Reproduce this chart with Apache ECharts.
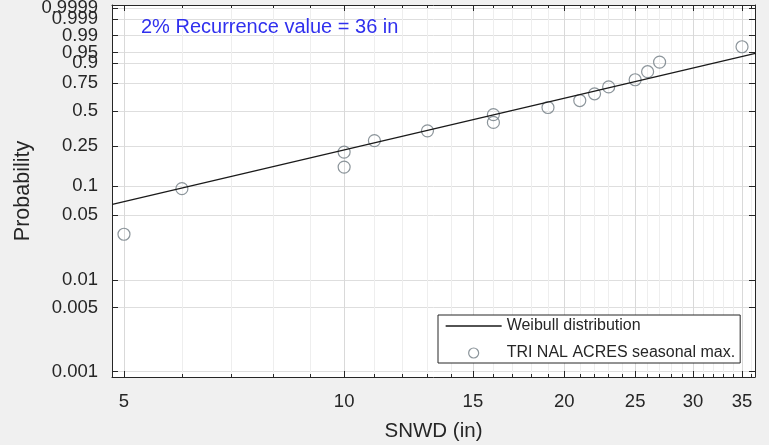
<!DOCTYPE html>
<html><head><meta charset="utf-8">
<script src="https://cdn.jsdelivr.net/npm/echarts@6/dist/echarts.min.js"></script>
<style>html,body{margin:0;padding:0;background:#f0f0f0}#c{width:769px;height:445px}</style>
</head><body><div id="c"></div>
<script>
// ---- data ----
const snwd = [5, 6, 10, 10, 11, 13, 16, 16, 19, 21, 22, 23, 25, 26, 27, 35];
const prob = [0.031, 0.094, 0.156, 0.219, 0.281, 0.344, 0.406, 0.469, 0.531, 0.594, 0.656, 0.719, 0.781, 0.844, 0.906, 0.969];
const fitX = [4.82, 36.5];
const fitP = [0.0645, 0.9475];
const xMajor = [5, 10, 15, 20, 25, 30, 35];
const xMinor = [6, 7, 8, 9, 11, 12, 13, 14, 16, 17, 18, 19, 21, 22, 23, 24, 26, 27, 28, 29, 31, 32, 33, 34, 36];
const xLimits = [4.815, 36.46];
const yTickP = [0.001, 0.005, 0.01, 0.05, 0.1, 0.25, 0.5, 0.75, 0.9, 0.95, 0.99, 0.999, 0.9999];
const yTickLabels = ['0.001', '0.005', '0.01', '0.05', '0.1', '0.25', '0.5', '0.75', '0.9', '0.95', '0.99', '0.999', '0.9999'];
const yLimits = [0.000876, 0.99995];
const titleText = '2% Recurrence value = 36 in';
const lineName = 'Weibull distribution';
const pointName = 'TRI NAL ACRES seasonal max.';

// ---- scale transforms (Weibull probability paper) ----
const L10 = v => Math.log10(v);
const W = p => Math.log(-Math.log(1 - p));

const ink = '#262626';
const font = "'Liberation Sans', Arial, sans-serif";

function xAxisDef(pos, vals, len, showLine, split, splitColor, extra) {
  return Object.assign({
    type: 'value', position: pos,
    min: L10(xLimits[0]), max: L10(xLimits[1]),
    axisLine: { show: showLine, onZero: false, lineStyle: { color: ink, width: 1 } },
    axisTick: { show: true, inside: true, length: len, customValues: vals.map(L10), lineStyle: { color: ink, width: 1 } },
    axisLabel: { show: false },
    splitLine: { show: split, lineStyle: { color: splitColor, width: 1 } }
  }, extra || {});
}
function yLabelFmt(v) {
  let best = 0, bd = 1e9;
  yTickP.forEach((p, i) => { const d = Math.abs(W(p) - v); if (d < bd) { bd = d; best = i; } });
  return yTickLabels[best];
}
// labels split over two overlaid left axes so that neighbouring labels are not auto-hidden
const yLabA = yTickP.filter((p, i) => i % 2 === 0);
const yLabB = yTickP.filter((p, i) => i % 2 === 1);

const option = {
  animation: false,
  backgroundColor: '#f0f0f0',
  textStyle: { fontFamily: font },
  title: {
    text: titleText, left: 141, top: 17, padding: 0,
    textStyle: { color: '#3030ee', fontSize: 20, fontWeight: 'normal', fontFamily: font }
  },
  grid: { left: 112, top: 5, right: 14, bottom: 68, show: true, backgroundColor: '#ffffff', borderWidth: 0, outerBoundsMode: 'none' },
  legend: {
    orient: 'vertical', left: 438, top: 315,
    padding: [3, 5, 2, 7], itemGap: 11, itemWidth: 56, itemHeight: 10,
    backgroundColor: '#ffffff', borderColor: ink, borderWidth: 1, borderRadius: 0,
    textStyle: { fontSize: 16, color: ink, fontFamily: font },
    data: [
      { name: lineName, lineStyle: { color: '#1a1a1a', width: 1.3 }, itemStyle: { color: 'rgba(0,0,0,0)', borderColor: 'rgba(0,0,0,0)', borderWidth: 0, opacity: 0 } },
      { name: pointName, icon: 'circle', itemStyle: { color: 'rgba(0,0,0,0)', borderColor: '#6f7a82', borderWidth: 1.2 } }
    ]
  },
  xAxis: [
    xAxisDef('bottom', xMajor, 6, true, true, '#d9d9d9', {
      axisLabel: {
        show: true, customValues: xMajor.map(L10), margin: 15,
        showMinLabel: true, showMaxLabel: true,
        fontSize: 18.5, color: ink, fontFamily: font,
        formatter: v => String(Math.round(Math.pow(10, v)))
      },
      name: 'SNWD (in)', nameLocation: 'middle', nameGap: 44,
      nameTextStyle: { fontSize: 20.5, color: ink, fontFamily: font }
    }),
    xAxisDef('bottom', xMinor, 3, false, true, '#eeeeee'),
    xAxisDef('top', xMajor, 6, true, false, '#fff'),
    xAxisDef('top', xMinor, 3, false, false, '#fff')
  ],
  yAxis: [
    {
      type: 'value', position: 'left',
      min: W(yLimits[0]), max: W(yLimits[1]),
      axisLine: { show: true, onZero: false, lineStyle: { color: ink, width: 1 } },
      axisTick: { show: true, inside: true, length: 6, customValues: yTickP.map(W), lineStyle: { color: ink } },
      axisLabel: {
        show: true, customValues: yLabA.map(W), margin: 14,
        showMinLabel: true, showMaxLabel: true, hideOverlap: false,
        fontSize: 18.5, color: ink, fontFamily: font, formatter: yLabelFmt
      },
      splitLine: { show: true, lineStyle: { color: '#dedede', width: 1 } },
      name: 'Probability', nameLocation: 'middle', nameGap: 78, nameRotate: 90, nameMoveOverlap: false,
      nameTextStyle: { fontSize: 21.5, color: ink, fontFamily: font }
    },
    {
      type: 'value', position: 'right',
      min: W(yLimits[0]), max: W(yLimits[1]),
      axisLine: { show: true, onZero: false, lineStyle: { color: ink, width: 1 } },
      axisTick: { show: true, inside: true, length: 6, customValues: yTickP.map(W), lineStyle: { color: ink } },
      axisLabel: { show: false },
      splitLine: { show: false }
    },
    {
      type: 'value', position: 'left',
      min: W(yLimits[0]), max: W(yLimits[1]),
      axisLine: { show: false, onZero: false },
      axisTick: { show: false, customValues: yLabB.map(W) },
      axisLabel: {
        show: true, customValues: yLabB.map(W), margin: 14,
        showMinLabel: true, showMaxLabel: true, hideOverlap: false,
        fontSize: 18.5, color: ink, fontFamily: font, formatter: yLabelFmt
      },
      splitLine: { show: false }
    }
  ],
  series: [
    {
      name: lineName, type: 'line', xAxisIndex: 0, yAxisIndex: 0,
      data: fitX.map((x, i) => [L10(x), W(fitP[i])]),
      symbol: 'none', silent: true,
      lineStyle: { color: '#1a1a1a', width: 1.3 }
    },
    {
      name: pointName, type: 'scatter', xAxisIndex: 0, yAxisIndex: 0,
      data: snwd.map((x, i) => [L10(x), W(prob[i])]),
      symbol: 'circle', symbolSize: 12, silent: true,
      itemStyle: { color: 'rgba(0,0,0,0)', borderColor: '#6f7a82', borderWidth: 1.2 }
    }
  ]
};
const chart = echarts.init(document.getElementById('c'), null, { renderer: 'canvas' });
chart.setOption(option);
</script>
</body></html>
